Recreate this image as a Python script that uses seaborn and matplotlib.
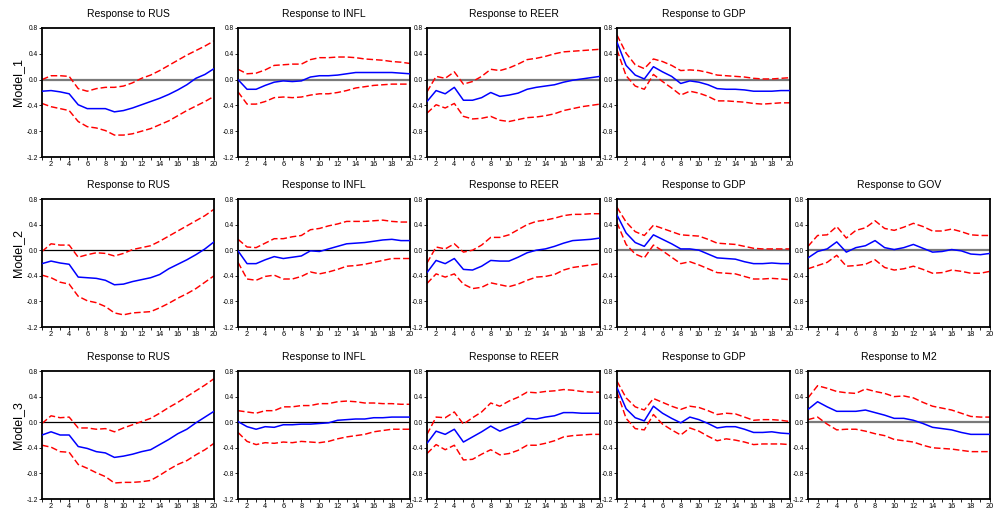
import matplotlib
matplotlib.use("Agg")
import matplotlib.pyplot as plt
from matplotlib.ticker import MultipleLocator, FixedLocator
import seaborn as sns
import numpy as np
import pandas as pd

periods = list(range(1, 21))
y_ticks = [-1.2, -0.8, -0.4, 0.0, 0.4, 0.8]
x_ticks = [2, 4, 6, 8, 10, 12, 14, 16, 18, 20]
row_labels = ["Model_1", "Model_2", "Model_3"]

# ---------------- Model 1 ----------------
m1_rus_resp = [-0.18, -0.17, -0.19, -0.22, -0.39, -0.45, -0.45, -0.45, -0.50, -0.48, -0.44, -0.39, -0.34, -0.29, -0.23, -0.16, -0.08, 0.02, 0.08, 0.17]
m1_rus_hi = [0.00, 0.06, 0.06, 0.05, -0.14, -0.18, -0.14, -0.12, -0.12, -0.10, -0.05, 0.02, 0.07, 0.14, 0.22, 0.30, 0.38, 0.45, 0.52, 0.60]
m1_rus_lo = [-0.37, -0.42, -0.45, -0.48, -0.65, -0.73, -0.75, -0.79, -0.86, -0.86, -0.84, -0.80, -0.76, -0.70, -0.64, -0.56, -0.48, -0.41, -0.34, -0.26]

m1_infl_resp = [0.00, -0.15, -0.15, -0.09, -0.04, -0.02, -0.03, -0.02, 0.04, 0.06, 0.06, 0.07, 0.09, 0.11, 0.11, 0.11, 0.11, 0.11, 0.10, 0.09]
m1_infl_hi = [0.16, 0.09, 0.10, 0.15, 0.22, 0.23, 0.24, 0.24, 0.31, 0.34, 0.34, 0.35, 0.35, 0.34, 0.32, 0.31, 0.30, 0.28, 0.27, 0.25]
m1_infl_lo = [-0.19, -0.38, -0.38, -0.34, -0.28, -0.27, -0.28, -0.27, -0.24, -0.22, -0.22, -0.20, -0.17, -0.13, -0.11, -0.09, -0.08, -0.07, -0.07, -0.07]

m1_reer_resp = [-0.34, -0.17, -0.22, -0.12, -0.32, -0.32, -0.28, -0.20, -0.26, -0.24, -0.21, -0.15, -0.12, -0.10, -0.08, -0.04, -0.01, 0.01, 0.03, 0.05]
m1_reer_hi = [-0.19, 0.05, 0.02, 0.12, -0.07, -0.03, 0.05, 0.16, 0.14, 0.18, 0.24, 0.31, 0.33, 0.36, 0.40, 0.43, 0.44, 0.45, 0.46, 0.47]
m1_reer_lo = [-0.52, -0.39, -0.44, -0.37, -0.57, -0.61, -0.60, -0.57, -0.63, -0.65, -0.62, -0.59, -0.58, -0.56, -0.53, -0.48, -0.45, -0.42, -0.40, -0.38]

m1_gdp_resp = [0.58, 0.22, 0.07, 0.01, 0.20, 0.12, 0.05, -0.06, -0.02, -0.04, -0.08, -0.14, -0.15, -0.15, -0.16, -0.18, -0.18, -0.18, -0.17, -0.17]
m1_gdp_hi = [0.69, 0.41, 0.23, 0.17, 0.32, 0.28, 0.22, 0.14, 0.15, 0.14, 0.11, 0.07, 0.06, 0.05, 0.04, 0.02, 0.01, 0.01, 0.02, 0.03]
m1_gdp_lo = [0.46, 0.06, -0.10, -0.15, 0.08, -0.03, -0.13, -0.24, -0.18, -0.21, -0.26, -0.33, -0.33, -0.34, -0.35, -0.37, -0.38, -0.37, -0.36, -0.36]

# ---------------- Model 2 ----------------
m2_rus_resp = [-0.21, -0.17, -0.20, -0.22, -0.42, -0.43, -0.44, -0.47, -0.54, -0.53, -0.49, -0.46, -0.43, -0.38, -0.29, -0.22, -0.15, -0.07, 0.02, 0.13]
m2_rus_hi = [-0.02, 0.10, 0.08, 0.08, -0.11, -0.07, -0.04, -0.05, -0.09, -0.05, 0.01, 0.04, 0.07, 0.14, 0.22, 0.30, 0.38, 0.46, 0.54, 0.64]
m2_rus_lo = [-0.39, -0.43, -0.50, -0.53, -0.72, -0.79, -0.82, -0.88, -0.98, -1.01, -0.98, -0.97, -0.96, -0.90, -0.83, -0.75, -0.68, -0.60, -0.50, -0.40]

m2_infl_resp = [-0.01, -0.21, -0.21, -0.15, -0.10, -0.13, -0.11, -0.09, -0.01, -0.02, 0.02, 0.06, 0.10, 0.11, 0.12, 0.14, 0.16, 0.17, 0.15, 0.15]
m2_infl_hi = [0.17, 0.05, 0.04, 0.11, 0.18, 0.18, 0.21, 0.23, 0.32, 0.34, 0.38, 0.41, 0.45, 0.45, 0.45, 0.46, 0.47, 0.45, 0.44, 0.44]
m2_infl_lo = [-0.19, -0.45, -0.47, -0.41, -0.39, -0.45, -0.45, -0.41, -0.34, -0.37, -0.34, -0.30, -0.25, -0.24, -0.22, -0.19, -0.16, -0.13, -0.13, -0.13]

m2_reer_resp = [-0.35, -0.16, -0.21, -0.13, -0.30, -0.31, -0.25, -0.16, -0.17, -0.17, -0.11, -0.04, 0.00, 0.02, 0.06, 0.11, 0.15, 0.16, 0.17, 0.19]
m2_reer_hi = [-0.20, 0.05, 0.02, 0.10, -0.03, 0.00, 0.08, 0.20, 0.20, 0.24, 0.32, 0.40, 0.45, 0.47, 0.50, 0.54, 0.56, 0.56, 0.57, 0.57]
m2_reer_lo = [-0.52, -0.37, -0.42, -0.37, -0.53, -0.60, -0.58, -0.51, -0.54, -0.57, -0.53, -0.47, -0.42, -0.41, -0.38, -0.31, -0.27, -0.25, -0.23, -0.21]

m2_gdp_resp = [0.55, 0.27, 0.12, 0.06, 0.24, 0.17, 0.10, 0.02, 0.02, 0.00, -0.06, -0.12, -0.13, -0.14, -0.18, -0.21, -0.21, -0.20, -0.21, -0.21]
m2_gdp_hi = [0.67, 0.44, 0.29, 0.23, 0.39, 0.34, 0.29, 0.24, 0.23, 0.22, 0.17, 0.11, 0.10, 0.09, 0.06, 0.03, 0.02, 0.02, 0.02, 0.02]
m2_gdp_lo = [0.43, 0.09, -0.06, -0.12, 0.08, -0.01, -0.11, -0.21, -0.18, -0.23, -0.29, -0.35, -0.36, -0.37, -0.41, -0.45, -0.45, -0.44, -0.45, -0.46]

m2_gov_resp = [-0.12, -0.02, 0.02, 0.13, -0.03, 0.04, 0.07, 0.15, 0.04, 0.01, 0.04, 0.09, 0.03, -0.03, -0.02, 0.01, -0.01, -0.06, -0.07, -0.05]
m2_gov_hi = [0.06, 0.23, 0.24, 0.37, 0.19, 0.31, 0.35, 0.46, 0.34, 0.31, 0.36, 0.42, 0.37, 0.30, 0.30, 0.33, 0.29, 0.24, 0.23, 0.23]
m2_gov_lo = [-0.29, -0.24, -0.19, -0.08, -0.25, -0.24, -0.22, -0.15, -0.27, -0.31, -0.29, -0.25, -0.30, -0.36, -0.35, -0.31, -0.33, -0.36, -0.36, -0.33]

# ---------------- Model 3 ----------------
m3_rus_resp = [-0.20, -0.15, -0.20, -0.20, -0.38, -0.41, -0.46, -0.48, -0.55, -0.53, -0.50, -0.46, -0.43, -0.35, -0.27, -0.18, -0.11, -0.01, 0.08, 0.17]
m3_rus_hi = [-0.02, 0.10, 0.07, 0.08, -0.09, -0.09, -0.11, -0.10, -0.15, -0.09, -0.04, 0.01, 0.06, 0.14, 0.23, 0.31, 0.40, 0.49, 0.58, 0.68]
m3_rus_lo = [-0.36, -0.39, -0.46, -0.47, -0.66, -0.72, -0.79, -0.85, -0.95, -0.94, -0.94, -0.93, -0.91, -0.83, -0.74, -0.66, -0.60, -0.51, -0.43, -0.33]

m3_infl_resp = [0.01, -0.07, -0.11, -0.07, -0.08, -0.04, -0.04, -0.03, -0.03, -0.02, -0.01, 0.03, 0.04, 0.05, 0.05, 0.07, 0.07, 0.08, 0.08, 0.08]
m3_infl_hi = [0.18, 0.16, 0.14, 0.18, 0.18, 0.24, 0.24, 0.26, 0.26, 0.29, 0.29, 0.32, 0.33, 0.32, 0.30, 0.30, 0.29, 0.29, 0.28, 0.28]
m3_infl_lo = [-0.16, -0.30, -0.35, -0.32, -0.33, -0.31, -0.32, -0.30, -0.31, -0.32, -0.30, -0.26, -0.23, -0.21, -0.19, -0.15, -0.13, -0.11, -0.11, -0.11]

m3_reer_resp = [-0.33, -0.14, -0.19, -0.11, -0.31, -0.23, -0.15, -0.06, -0.14, -0.08, -0.03, 0.06, 0.05, 0.08, 0.10, 0.15, 0.15, 0.14, 0.14, 0.14]
m3_reer_hi = [-0.19, 0.08, 0.07, 0.16, -0.03, 0.07, 0.16, 0.30, 0.25, 0.33, 0.39, 0.47, 0.46, 0.48, 0.49, 0.51, 0.50, 0.48, 0.47, 0.47]
m3_reer_lo = [-0.49, -0.35, -0.43, -0.36, -0.59, -0.58, -0.50, -0.43, -0.51, -0.49, -0.44, -0.36, -0.36, -0.33, -0.29, -0.23, -0.21, -0.20, -0.19, -0.19]

m3_gdp_resp = [0.54, 0.21, 0.07, 0.02, 0.25, 0.14, 0.06, -0.01, 0.08, 0.04, -0.02, -0.09, -0.07, -0.07, -0.11, -0.16, -0.16, -0.15, -0.17, -0.18]
m3_gdp_hi = [0.64, 0.38, 0.24, 0.19, 0.37, 0.31, 0.25, 0.20, 0.25, 0.23, 0.18, 0.12, 0.14, 0.13, 0.08, 0.03, 0.04, 0.04, 0.03, 0.01]
m3_gdp_lo = [0.47, 0.06, -0.10, -0.12, 0.12, -0.03, -0.12, -0.20, -0.09, -0.14, -0.22, -0.29, -0.26, -0.28, -0.31, -0.35, -0.34, -0.34, -0.34, -0.35]

m3_m2_resp = [0.20, 0.32, 0.24, 0.17, 0.17, 0.17, 0.19, 0.15, 0.11, 0.06, 0.06, 0.03, -0.02, -0.08, -0.10, -0.12, -0.16, -0.19, -0.19, -0.19]
m3_m2_hi = [0.38, 0.57, 0.53, 0.48, 0.46, 0.45, 0.52, 0.48, 0.45, 0.40, 0.41, 0.38, 0.31, 0.25, 0.22, 0.19, 0.14, 0.09, 0.08, 0.08]
m3_m2_lo = [0.04, 0.08, -0.03, -0.12, -0.11, -0.11, -0.14, -0.18, -0.21, -0.27, -0.29, -0.31, -0.36, -0.40, -0.41, -0.42, -0.44, -0.46, -0.46, -0.46]

panels = [
    # (row, col, title, resp, lo, hi, zero-line style)
    (0, 0, "Response to RUS", m1_rus_resp, m1_rus_lo, m1_rus_hi, "g"),
    (0, 1, "Response to INFL", m1_infl_resp, m1_infl_lo, m1_infl_hi, "g"),
    (0, 2, "Response to REER", m1_reer_resp, m1_reer_lo, m1_reer_hi, "g"),
    (0, 3, "Response to GDP", m1_gdp_resp, m1_gdp_lo, m1_gdp_hi, "g"),
    (1, 0, "Response to RUS", m2_rus_resp, m2_rus_lo, m2_rus_hi, "k"),
    (1, 1, "Response to INFL", m2_infl_resp, m2_infl_lo, m2_infl_hi, "k"),
    (1, 2, "Response to REER", m2_reer_resp, m2_reer_lo, m2_reer_hi, "k"),
    (1, 3, "Response to GDP", m2_gdp_resp, m2_gdp_lo, m2_gdp_hi, "g"),
    (1, 4, "Response to GOV", m2_gov_resp, m2_gov_lo, m2_gov_hi, "g"),
    (2, 0, "Response to RUS", m3_rus_resp, m3_rus_lo, m3_rus_hi, "k"),
    (2, 1, "Response to INFL", m3_infl_resp, m3_infl_lo, m3_infl_hi, "k"),
    (2, 2, "Response to REER", m3_reer_resp, m3_reer_lo, m3_reer_hi, "k"),
    (2, 3, "Response to GDP", m3_gdp_resp, m3_gdp_lo, m3_gdp_hi, "k"),
    (2, 4, "Response to M2", m3_m2_resp, m3_m2_lo, m3_m2_hi, "g"),
]

sns.set_theme(style="white")
plt.rcParams["font.family"] = ["Liberation Sans", "DejaVu Sans"]

W, H = 994, 517
fig = plt.figure(figsize=(W / 100, H / 100), dpi=100)
fig.patch.set_facecolor("white")

col_x = [(42, 214), (238, 410), (427, 600), (617, 790), (808, 990)]
row_y = [(28, 157), (199, 327), (371, 499)]

for (r, c, title, resp, lo, hi, zstyle) in panels:
    x0, x1 = col_x[c]
    y0, y1 = row_y[r]
    ax = fig.add_axes([x0 / W, 1 - y1 / H, (x1 - x0) / W, (y1 - y0) / H])
    ax.set_facecolor("white")
    if zstyle == "g":
        ax.axhline(0, color="#7a7a7a", lw=1.6, zorder=1)
    else:
        ax.axhline(0, color="black", lw=0.9, zorder=1)
    df = pd.DataFrame({"period": periods, "resp": resp, "lo": lo, "hi": hi})
    sns.lineplot(data=df, x="period", y="hi", ax=ax, color="#ff0000", lw=1.05,
                 linestyle=(0, (4.5, 2)), legend=False, zorder=2)
    sns.lineplot(data=df, x="period", y="lo", ax=ax, color="#ff0000", lw=1.05,
                 linestyle=(0, (4.5, 2)), legend=False, zorder=2)
    sns.lineplot(data=df, x="period", y="resp", ax=ax, color="#0000ff", lw=1.1,
                 legend=False, zorder=3)
    ax.set_xlim(1, 20)
    ax.set_ylim(-1.2, 0.8)
    ax.set_xlabel("")
    ax.set_ylabel("")
    ax.xaxis.set_major_locator(FixedLocator(x_ticks))
    ax.xaxis.set_minor_locator(MultipleLocator(1))
    ax.yaxis.set_major_locator(FixedLocator(y_ticks))
    ax.set_yticklabels([f"{v:.1f}" for v in y_ticks])
    ax.tick_params(axis="both", which="both", direction="out", length=2,
                   width=0.6, colors="black", pad=1)
    ax.tick_params(axis="y", labelsize=4.8)
    ax.tick_params(axis="x", labelsize=5.3)
    ax.tick_params(axis="both", which="both", bottom=True, left=True)
    for s in ax.spines.values():
        s.set_color("black")
        s.set_linewidth(1.3)
    ax.set_title(title, fontsize=7.5, pad=8, color="black")

for i, lab in enumerate(row_labels):
    yc = (row_y[i][0] + row_y[i][1]) / 2 - 10
    fig.text(18 / W, 1 - yc / H, lab, rotation=90, fontsize=9,
             ha="center", va="center", color="black")

fig.savefig("out.png", dpi=100, facecolor="white")
